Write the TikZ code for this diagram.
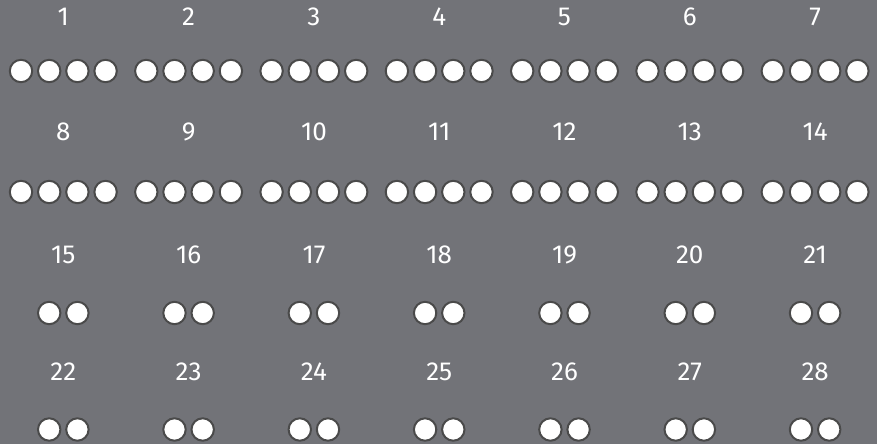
\documentclass[tikz,border=0pt]{standalone}
\usepackage{fontspec}
\setmainfont{Fira Sans}
\usepackage{tikz}
\definecolor{slotBg}{RGB}{114,115,120}
\definecolor{slotRim}{RGB}{74,74,74}
\tikzset{
  slot/.style={circle, draw=slotRim, line width=2pt, fill=white, minimum size=22.4pt, inner sep=0pt},
  num/.style={text=white, inner sep=0pt, font=\fontsize{26}{30}\selectfont},
}

\begin{document}
\begin{tikzpicture}[x=1pt,y=-1pt]
\fill[slotBg] (0,0) rectangle (877,444);
\useasboundingbox (0,0) rectangle (877,444);
% rows with four slots
\foreach \r/\ly/\cy in {0/17/71, 1/132/192}{
  \foreach \c in {0,...,6}{
    \pgfmathtruncatemacro{\n}{7*\r+\c+1}
    \node[num] (num\n) at ({63.3+125.3*\c},\ly) {\n};
    \foreach \k in {1,...,4}
      \node[slot] (slot\n-\k) at ({63.3+125.3*\c+28.2*(\k-2.5)},\cy) {};
  }
}
% rows with two slots
\foreach \r/\ly/\cy in {2/255/313, 3/372/429.5}{
  \foreach \c in {0,...,6}{
    \pgfmathtruncatemacro{\n}{7*\r+\c+1}
    \node[num] (num\n) at ({63.3+125.3*\c},\ly) {\n};
    \foreach \k in {1,2}
      \node[slot] (slot\n-\k) at ({63.3+125.3*\c+28.2*(\k-1.5)},\cy) {};
  }
}
\end{tikzpicture}
\end{document}
